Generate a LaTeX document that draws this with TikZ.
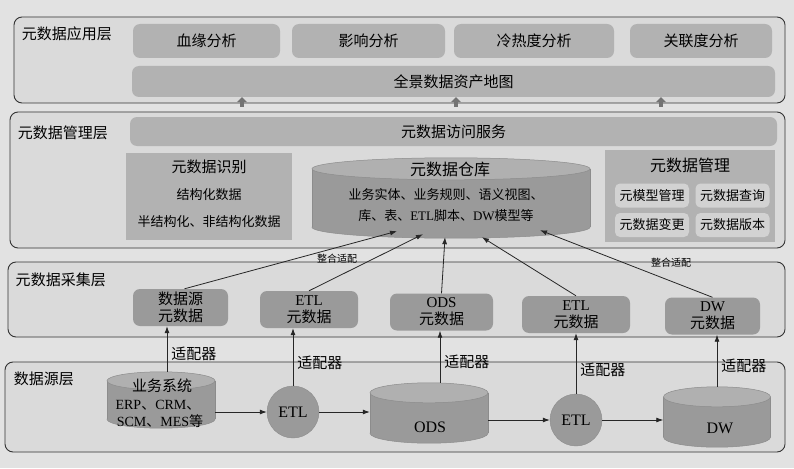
\documentclass[tikz,border=0pt]{standalone}
\usepackage{fontspec}
\setmainfont{Noto Sans CJK SC}
\newfontfamily\lat{Liberation Serif}
\usetikzlibrary{positioning,calc,arrows.meta}
\definecolor{pagebg}{HTML}{E2E2E2}
\definecolor{layerbg}{HTML}{DADADA}
\definecolor{barbg}{HTML}{B2B2B2}
\definecolor{boxdark}{HTML}{9A9A9A}
\definecolor{subbg}{HTML}{D2D2D2}
\definecolor{linegray}{HTML}{333333}

\tikzset{
  layer/.style={draw=linegray, line width=0.9pt, rounded corners=8pt, fill=layerbg},
  layerlabel/.style={anchor=north west, inner sep=0pt, font=\fontsize{15}{17}\selectfont},
  bar/.style={rounded corners=7pt, fill=barbg, inner sep=0pt, font=\fontsize{15}{17}\selectfont},
  idbox/.style={fill=barbg, inner sep=0pt},
  subbox/.style={rounded corners=5pt, fill=subbg, minimum width=74pt, minimum height=24pt, inner sep=0pt, font=\fontsize{13}{15}\selectfont},
  collbox/.style={rounded corners=7pt, fill=boxdark, align=center, inner sep=0pt, font=\fontsize{15}{17}\selectfont},
  dbarea/.style={inner sep=0pt},
  dbedge/.style={draw=black!45, line width=0.5pt},
  etlnode/.style={circle, fill=boxdark, draw=black!45, minimum size=52pt, inner sep=0pt, font=\lat\fontsize{16}{18}\selectfont},
  arr/.style={-{Latex[length=7pt,width=5pt]}, line width=0.8pt, draw=black!85},
  uparr/.style={-{Triangle[length=5pt,width=10pt]}, line width=4pt, draw=black!55},
  adapt/.style={right, inner sep=4pt, font=\fontsize{15}{17}\selectfont},
  integ/.style={inner sep=1pt, font=\fontsize{10}{12}\selectfont}
}

% cylinder drawn inside a named node: #1 node, #2 x radius, #3 y radius of the ends
\newcommand{\dbshape}[3]{%
  \filldraw[fill=boxdark, dbedge] ($(#1.south)+(0,-#3)$) ellipse [x radius=#2, y radius=#3];
  \fill[boxdark] ($(#1.north west)+(0,#3)$) rectangle ($(#1.south east)+(0,-#3)$);
  \draw[dbedge] ($(#1.north west)+(0,#3)$) -- ($(#1.south west)+(0,-#3)$)
                ($(#1.north east)+(0,#3)$) -- ($(#1.south east)+(0,-#3)$);
  \filldraw[fill=boxdark!78!white, dbedge] ($(#1.north)+(0,#3)$) ellipse [x radius=#2, y radius=#3];
}

\begin{document}
\begin{tikzpicture}[x=1pt, y=-1pt]
  \fill[pagebg] (0,0) rectangle (794,468);
  \useasboundingbox (0,0) rectangle (794,468);

  % Four layers
  \node[layer, minimum width=771, minimum height=86] (app) at (399.5,60) {};
  \node[layer, minimum width=775, minimum height=136] (mgmt) at (397.5,180) {};
  \node[layer, minimum width=777, minimum height=75] (coll) at (396.5,299.5) {};
  \node[layer, minimum width=780, minimum height=90] (src) at (395,407) {};
  \node[layerlabel] (applbl) at ($(app.north west)+(8,10)$) {元数据应用层};
  \node[layerlabel] (mgmtlbl) at ($(mgmt.north west)+(8,14)$) {元数据管理层};
  \node[layerlabel] (colllbl) at ($(coll.north west)+(8,11)$) {元数据采集层};
  \node[layerlabel] (srclbl) at ($(src.north west)+(9,10)$) {数据源层};

  % Application layer
  \foreach \nm/\px/\bw/\txt in {a1/206.5/147/血缘分析, a2/368.5/153/影响分析, a3/534/160/冷热度分析, a4/701/142/关联度分析}
    \node[bar, minimum width=\bw, minimum height=34] (\nm) at (\px,41) {\txt};
  \node[bar, minimum width=643, minimum height=31] (map) at (453.5,81.5) {全景数据资产地图};
  \foreach \px in {242,456,661}
    \draw[uparr] (\px,107) -- (map.south -| \px,0);

  % Management layer
  \node[bar, minimum width=647, minimum height=29] (acc) at (453.5,131.5) {元数据访问服务};

  \node[idbox, minimum width=166, minimum height=87] (ident) at (209,196.5) {};
  \node[font=\fontsize{15}{17}\selectfont] (identT) at (209,167) {元数据识别};
  \node[font=\fontsize{13}{15}\selectfont] (ident1) at (209,195) {结构化数据};
  \node[font=\fontsize{13}{15}\selectfont] (ident2) at (209,222) {半结构化、非结构化数据};

  \node[dbarea, minimum width=278, minimum height=80] (wh) at (451,198) {};
  \dbshape{wh}{139}{11}
  \node[font=\fontsize{16}{18}\selectfont] (whT) at (450,169) {元数据仓库};
  \node[font=\fontsize{13}{15}\selectfont] (whL1) at (446,195) {业务实体、业务规则、语义视图、};
  \node[font=\fontsize{13}{15}\selectfont] (whL2) at (446,216) {库、表、{\lat ETL}脚本、{\lat DW}模型等};

  \node[idbox, minimum width=170, minimum height=92] (meta) at (690,196) {};
  \node[font=\fontsize{16}{18}\selectfont] (metaT) at (690,165) {元数据管理};
  \node[subbox] (m1) at (652,195.5) {元模型管理};
  \node[subbox] (m2) at (732.5,195.5) {元数据查询};
  \node[subbox] (m3) at (652,225) {元数据变更};
  \node[subbox] (m4) at (732.5,225) {元数据版本};

  % Collection layer
  \foreach \nm/\px/\py/\bw/\txt in {c1/180.5/307.5/95/{数据源\\元数据}, c2/309/309.5/98/{{\lat ETL}\\元数据},
      c3/441.5/312/103/{{\lat ODS}\\元数据}, c4/576/314.5/108/{{\lat ETL}\\元数据}, c5/712.5/316/95/{{\lat DW}\\元数据}}
    \node[collbox, minimum width=\bw, minimum height=37] (\nm) at (\px,\py) {\txt};

  % Data source layer
  \node[dbarea, minimum width=108, minimum height=56] (s1) at (161,400) {};
  \dbshape{s1}{54}{9}
  \node[font=\fontsize{15}{17}\selectfont] (s1T) at (162,386) {业务系统};
  \node[font=\lat\fontsize{14}{16}\selectfont] (s1L1) at (158,405) {ERP{\rmfamily 、}CRM{\rmfamily 、}};
  \node[font=\lat\fontsize{14}{16}\selectfont] (s1L2) at (160,421) {SCM{\rmfamily 、}MES{\rmfamily 等}};
  \node[etlnode] (e1) at (293,412) {ETL};
  \node[dbarea, minimum width=118, minimum height=60] (ods) at (429,413) {};
  \dbshape{ods}{59}{10}
  \node[font=\lat\fontsize{16}{18}\selectfont] (odsT) at (430,427) {ODS};
  \node[etlnode] (e2) at (576,420) {ETL};
  \node[dbarea, minimum width=107, minimum height=60] (dw) at (717,417) {};
  \dbshape{dw}{53.5}{10}
  \node[font=\lat\fontsize{16}{18}\selectfont] (dwT) at (720,428) {DW};

  \draw[arr] (s1.east |- e1) -- (e1.west);
  \draw[arr] (e1.east) -- (e1.east -| ods.west);
  \draw[arr] (ods.east |- e2) -- (e2.west);
  \draw[arr] (e2.east) -- (e2.east -| dw.west);

  % Adapters
  \coordinate (s1up) at ($(s1.north)+(6,0)$);
  \coordinate (odsup) at ($(ods.north)+(11,0)$);
  \draw[arr] (s1up) -- (s1up |- c1.south) node[adapt, pos=0.4] {适配器};
  \draw[arr] (e1.north) -- (e1.north |- c2.south) node[adapt, pos=0.4] {适配器};
  \draw[arr] (odsup) -- (odsup |- c3.south) node[adapt, pos=0.4] {适配器};
  \draw[arr] (e2.north) -- (e2.north |- c4.south) node[adapt, pos=0.4] {适配器};
  \draw[arr] (dw.north) -- (dw.north |- c5.south) node[adapt, pos=0.4] {适配器};

  % Integration into the warehouse
  \draw[arr] (c1.north) ++(4,0) -- ($(wh.south)+(-54,-7)$);
  \draw[arr] (c2.north) -- ($(wh.south)+(-28,-4)$);
  \draw[arr] (c3.north) -- ($(wh.south)+(-6,-1)$);
  \draw[arr] (c4.north) -- ($(wh.south)+(31,-1)$);
  \draw[arr] (c5.north) -- ($(wh.south)+(89,-8)$);
  \node[integ] (integ1) at (337,259) {整合适配};
  \node[integ] (integ2) at (671,263) {整合适配};
\end{tikzpicture}
\end{document}
